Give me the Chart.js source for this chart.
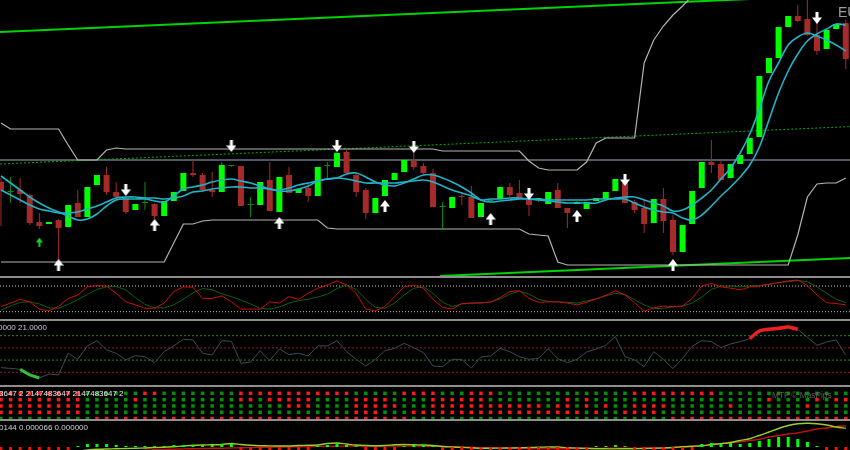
<!DOCTYPE html>
<html>
<head>
<meta charset="utf-8">
<script src="https://cdn.jsdelivr.net/npm/chart.js@4.4.0/dist/chart.umd.min.js"></script>
<style>
html, body { margin: 0; padding: 0; background: #000; overflow: hidden; }
#wrap { position: relative; width: 850px; height: 450px; overflow: hidden; background: #000; }
#wrap canvas { position: absolute; left: 0; }
.sep { position: absolute; left: 0; width: 850px; height: 2px; background: #8e8e8e; }
.lbl { position: absolute; font-family: "Liberation Sans", Arial, sans-serif; white-space: nowrap; }
</style>
</head>
<body>
<div id="wrap">
  <canvas id="main" width="850" height="276" style="top:0px"></canvas>
  <div class="sep" style="top:276px"></div>
  <canvas id="stoch" width="850" height="41" style="top:278px"></canvas>
  <div class="sep" style="top:319px"></div>
  <canvas id="rsi" width="850" height="64" style="top:321px"></canvas>
  <div class="sep" style="top:385px"></div>
  <canvas id="dots" width="850" height="32" style="top:387px"></canvas>
  <div class="sep" style="top:419px"></div>
  <canvas id="hist" width="850" height="29" style="top:421px"></canvas>

  <div class="lbl" style="left:838px;top:5px;font-size:14px;line-height:14px;color:#9c9c9c">EURUSD,H4</div>
  <div class="lbl" style="left:-2px;top:324px;font-size:8px;line-height:8px;color:#c8c8c8">0000 21.0000</div>
  <div class="lbl" style="left:-1px;top:390px;font-size:8px;line-height:8px;color:#e8e8e8">3647 2 2147483647 2147483647 2</div>
  <div class="lbl" style="left:772px;top:391px;font-size:8.3px;line-height:9px;color:#5c5c5c">MTF © MasPips</div>
  <div class="lbl" style="left:-1px;top:424px;font-size:8px;line-height:8px;color:#d0d0d0">0144 0.000066 0.000000</div>
</div>
<script>
// price bars (89 bars, oldest first)
var opens = [94,84,86,81,54,52,56,49,73,59, 91,101,84,78,66,73,72,60,75,85,
  103,101,86,84,110,110,71,71,96,64, 101,83,88,80,110,109,124,101,86,63,
  80,96,104,115,110,103,69,68,80,79, 59,75,77,89,83,76,76,72,86,68,
  72,67,75,77,85,93,74,68,53,77, 56,24,52,88,114,112,98,112,122,139,
  203,218,249,260,257,241,227,247,253];
var highs = [98,99,98,82,63,54,57,71,86,89, 101,109,94,80,72,94,73,75,84,103,
  116,103,104,114,111,110,79,94,114,99, 109,87,93,109,114,124,126,102,88,78,
  96,103,116,124,113,107,74,79,84,90, 73,76,89,93,96,76,78,84,93,68,
  75,74,78,84,97,93,76,76,77,88, 61,51,85,114,136,116,112,121,138,200,
  218,249,260,271,276,256,246,252,256];
var lows = [50,73,73,51,47,52,16,49,59,59, 91,81,77,62,66,66,57,60,75,85,
  99,84,79,84,109,70,59,71,65,64, 83,83,74,80,96,109,103,79,57,63,
  80,96,104,106,102,69,46,68,71,58, 59,74,77,79,77,60,74,72,68,48,
  72,67,75,77,85,73,63,43,53,43, 21,24,52,88,103,96,98,112,122,139,
  203,218,249,254,240,221,227,247,207];
var closes = [86,84,82,53,50,54,48,71,59,89, 101,84,79,64,72,73,60,75,84,103,
  101,86,84,111,110,70,71,94,65,99, 83,87,80,109,110,123,103,84,63,78,
  96,103,116,109,103,69,69,79,79,58, 73,75,89,81,77,71,78,84,68,63,
  74,74,78,84,97,73,66,52,77,55, 24,51,85,114,111,96,112,121,138,200,
  218,249,260,255,241,225,246,252,217];

var fastMA = [100,93,86,79,73,68,64,60,56,57, 62,70,76,77,77,77,75,74,80,87,
  89,91,94,96,97,95,93,90,87,85, 85,87,90,95,97,98,102,103,99,94,
  91,90,93,97,101,101,98,94,89,83, 76,74,75,76,77,77,76,75,74,73,
  73,73,73,76,78,79,79,76,73,70, 65,66,71,78,86,97,108,123,142,167,
  195,213,231,239,243,240,236,231,225];
var slowMA = [86,81,76,71,67,65,63,63,64,67, 70,74,78,79,79,78,78,77,78,80,
  84,85,87,88,89,89,88,88,87,86, 88,91,93,95,97,98,97,95,93,93,
  93,93,94,95,96,94,90,86,83,80, 76,77,77,78,78,77,77,76,76,76,
  76,76,77,77,77,77,73,69,66,64, 63,58,56,61,70,80,89,99,111,129,
  156,183,205,222,235,242,247,252,251];

var channelHigh = [153,147,147,147,147,147,147,131,116,116, 116,126,128,127,127,127,127,127,127,127,
  127,127,127,127,127,127,127,127,127,127, 127,127,127,127,127,127,127,127,127,127,
  127,127,127,127,127,127,125,125,125,125, 125,125,125,125,125,115,108,106,106,106,
  106,114,133,138,138,138,138,213,236,250, 261,270,280,null,null,null,null,null,null,null,
  null,null,null,null,null,null,null,null,null];
var channelLow = [14,14,14,14,14,14,14,14,14,14, 14,14,14,14,14,14,14,14,33,52,
  52,55,56,56,56,56,56,56,56,56, 56,56,56,56,48,47,47,47,47,47,
  47,47,47,47,47,47,47,47,47,47, 47,47,47,47,47,42,41,40,14,11,
  11,11,11,11,11,11,11,11,11,11, 11,11,11,11,11,11,11,11,11,11,
  11,11,11,41,79,92,93,93,98];

var priceLine = 116;
var trendX = [-0.1, 88.44];
var trendTop = [244, 281.4];
var trendMid = [112, 149.4];
var trendLowX = [45.75, 88.44];
var trendLow = [0, 18];

var downArrowBars = [13,24,35,43,55,65,85];
var downArrowValues = [86,130,130,129,82,96,258];
var upArrowBars = [6,16,29,40,51,60,70];
var upArrowValues = [11,51,53,70,57,60,11];
var greenArrowBars = [4];
var greenArrowValues = [34];

// stochastic
var stochK = [32,40,49,43,26,22,32,51,59,78, 81,80,63,43,36,28,28,40,67,78,
  77,51,51,57,43,26,26,26,43,40, 55,49,63,75,82,92,82,63,26,22,
  32,55,78,82,75,49,30,26,39,40, 41,42,53,67,69,51,42,43,43,40,
  36,42,50,58,69,59,41,21,29,33, 32,33,51,80,86,78,75,71,78,80,
  84,88,92,94,81,59,41,39,36];
var stochD = [24,33,42,43,38,29,28,37,48,60, 72,78,79,71,53,37,29,29,36,49,
  64,74,71,62,55,47,38,28,26,31, 40,46,49,54,61,74,82,72,49,30,
  28,40,59,75,78,63,42,32,38,40, 40,43,50,61,68,61,49,44,43,42,
  40,45,50,57,63,60,48,36,27,28, 31,33,40,54,72,80,80,78,80,81,
  84,88,90,93,90,78,63,49,41];
var stochLevels = [80, 20];

// rsi
var rsi = [43.8,43.2,42.4,37.8,35.3,38.6,37.8,55.6,50.6,61.6, 65.9,58.3,55.6,50.1,53.6,52.8,47.9,56.9,61.6,67.0,
  66.5,55.6,54.2,65.9,65.4,47.4,48.4,57.7,49.5,59.1, 54.5,55.6,53.4,61.6,61.6,65.9,56.9,50.6,45.2,50.6,
  57.7,59.6,63.7,60.2,56.1,45.2,44.6,50.6,50.6,43.5, 52.5,53.4,59.6,56.9,52.8,50.6,51.5,59.4,51.2,47.9,
  50.6,56.6,59.1,62.1,69.2,52.8,50.1,44.6,56.9,50.6, 43.0,51.5,61.3,65.9,65.1,60.2,63.2,65.1,67.6,73.8,
  75.2,76.0,77.1,75.2,68.7,62.1,64.8,66.5,53.9];
var rsiLowBars = [2,3,4];
var rsiHighBars = [78,79,80,81,82,83];
var rsiGreenLevels = [70, 50];
var rsiRedLevels = [60, 40];

// MTF signal dots, top row first (r = down, g = up)
var dotRows = [
  'r'.repeat(9) + 'g'.repeat(6) + 'r'.repeat(2) + 'g'.repeat(8) + 'r'.repeat(12) + 'g'.repeat(5) +
    'r'.repeat(4) + 'g'.repeat(3) + 'r'.repeat(3) + 'g'.repeat(14) + 'r'.repeat(9) + 'g'.repeat(14),
  'r'.repeat(9) + 'g'.repeat(5) + 'r' + 'g'.repeat(10) + 'rr' + 'g' + 'r'.repeat(5) + 'g'.repeat(4) +
    'r'.repeat(4) + 'g'.repeat(4) + 'r'.repeat(6) + 'g'.repeat(8) + 'rgr' + 'g'.repeat(18) + 'r' +
    'g'.repeat(4) + 'rgrr',
  'r'.repeat(9) + 'g'.repeat(21) + 'r'.repeat(3) + 'g'.repeat(4) + 'r'.repeat(5) + 'g'.repeat(3) +
    'r'.repeat(12) + 'g' + 'rr' + 'grgr' + 'gg' + 'r'.repeat(4) + 'g'.repeat(6) + 'r' + 'g'.repeat(7) +
    'r' + 'g'.repeat(4),
  'r'.repeat(9) + 'g'.repeat(28) + 'r'.repeat(3) + 'g'.repeat(3) + 'r'.repeat(18) + 'gr' + 'gg' +
    'r'.repeat(4) + 'g'.repeat(20),
  'g'.repeat(10) + 'r'.repeat(33) + 'g'.repeat(27) + 'r'.repeat(19)
];

// macd style histogram and lines
var histValues = [-4,-4,-4,-4,-4,-4,-4,-4,1,3, 3,3,2,1,1,1,1,1,2,2,
  2,2,2,3,3,-4,-4,-4,-4,-4, -4,-4,-4,1,2,4,2,1,-4,-4,
  -4,-4,1,2,2,1,-4,-4,-4,-4, -4,-4,-4,-4,-4,-4,-4,-4,-4,-4,
  -4,-4,1,1,2,1,-4,-4,-4,-4, -4,-4,-4,3,4,3,4,3,4,6,
  8,10,10,8,5,1,-4,-4,-4];
var macdLine = [-4,-4,-4,-4,-4,-4,-4,-4,-4,-3, -2.3,-2,-1.8,-1.5,-1.2,-1,-0.6,-0.3,0.3,1,
  1.7,2,2.2,2.5,3.5,2.5,1.7,1.3,1.1,1, 1,1.5,1.7,2,3.5,4,3,2,1.5,1.2,
  1.5,2.2,2.5,2.2,2,1.5,0.5,0,-0.4,-0.8, -1.2,-1.2,-1.1,-1,-0.8,-0.5,-0.2,0,0,-0.7,
  -1,-1.4,-1.7,-1.8,-1.9,-1.7,-1.7,-1.5,-1.3,-1, -0.5,0.2,0.7,1.2,2.5,3.4,4.5,6.5,8.3,11.5,
  15,18.5,21.5,23.2,23.7,23.3,22,20,18.8];
var signalLine = [-4,-4,-4,-4,-4,-4,-4,-4,-4,-4, -4,-4,-4,-4,-4,-3.3,-2.8,-2.4,-2.1,-1.9,
  -1.7,-1.5,-1.3,-1.2,-1,-0.8,-0.6,-0.4,-0.2,0, 0.1,0.3,0.4,0.6,0.7,0.8,1,1,1,1,
  1,1,1,1,0.9,0.7,0.5,0.2,0,-0.3, -0.6,-0.8,-1,-1.2,-1.3,-1.4,-1.5,-1.6,-1.7,-1.7,
  -1.6,-1.5,-1.4,-1.3,-1.3,-1.2,-1.2,-1.1,-1,-1, -0.5,0,0.6,1.2,2.4,3.4,4.1,5.3,6.5,7.8,
  10,11.5,13,14,16,18,19,20.5,21.3];

function pts(arr) {
  return arr.map(function (v, i) { return { x: i, y: v }; });
}
function pick(bars, values) {
  return bars.map(function (b, i) { return { x: b, y: values[i] }; });
}
function only(arr, bars) {
  return arr.map(function (v, i) { return { x: i, y: bars.indexOf(i) >= 0 ? v : null }; });
}
function hline(value, color, width, dash) {
  return { type: 'line', data: [{ x: trendX[0], y: value }, { x: trendX[1], y: value }],
    borderColor: color, borderWidth: width, borderDash: dash || [], pointRadius: 0, order: 9 };
}

function makeArrow(up, color, w, h) {
  var c = document.createElement('canvas');
  c.width = w; c.height = h;
  var g = c.getContext('2d');
  g.fillStyle = color;
  if (up) { g.translate(0, h); g.scale(1, -1); }
  var sw = Math.max(2, Math.round(w * 0.34));
  g.fillRect((w - sw) / 2, 0, sw, h * 0.6);
  g.beginPath();
  g.moveTo(0, h * 0.45);
  g.lineTo(w, h * 0.45);
  g.lineTo(w / 2, h);
  g.closePath();
  g.fill();
  return c;
}

function baseOptions(ymin, ymax) {
  return {
    responsive: false, animation: false, devicePixelRatio: 1, events: [],
    layout: { padding: 0, autoPadding: false },
    plugins: { legend: { display: false }, tooltip: { enabled: false } },
    elements: { point: { radius: 0 } },
    scales: {
      x: { type: 'linear', min: -0.1, max: 88.44, offset: false, display: false },
      y: { type: 'linear', min: ymin, max: ymax, display: false }
    }
  };
}

var bull = '#00ff00', bear = '#a52a2a', doji = '#138a13';
var bodyColors = opens.map(function (o, i) { return closes[i] > o ? bull : (closes[i] < o ? bear : doji); });
var wickColors = opens.map(function (o, i) { return closes[i] >= o ? doji : bear; });

new Chart(document.getElementById('main'), {
  type: 'bar',
  data: {
    datasets: [
      { type: 'line', data: pick(downArrowBars, downArrowValues), showLine: false,
        pointStyle: makeArrow(false, '#ffffff', 10, 12), pointRadius: 6, order: 0 },
      { type: 'line', data: pick(upArrowBars, upArrowValues), showLine: false,
        pointStyle: makeArrow(true, '#ffffff', 10, 12), pointRadius: 6, order: 0 },
      { type: 'line', data: pick(greenArrowBars, greenArrowValues), showLine: false,
        pointStyle: makeArrow(true, '#22cc22', 7, 9), pointRadius: 5, order: 0 },
      { type: 'line', data: pts(fastMA), borderColor: '#20b4c8', borderWidth: 1.6,
        pointRadius: 0, tension: 0.35, order: 1 },
      { type: 'line', data: pts(slowMA), borderColor: '#20b4c8', borderWidth: 1.6,
        pointRadius: 0, tension: 0.35, order: 1 },
      { data: opens.map(function (o, i) { return { x: i, y: [o, closes[i]] }; }),
        backgroundColor: bodyColors, barThickness: 6, grouped: false, minBarLength: 1,
        inflateAmount: 0, borderWidth: 0, order: 3 },
      { data: lows.map(function (l, i) { return { x: i, y: [l, highs[i]] }; }),
        backgroundColor: wickColors, barThickness: 1, grouped: false,
        inflateAmount: 0, borderWidth: 0, order: 4 },
      { type: 'line', data: pts(channelHigh), borderColor: '#b4b4b4', borderWidth: 1.2,
        pointRadius: 0, tension: 0, order: 5 },
      { type: 'line', data: pts(channelLow), borderColor: '#b4b4b4', borderWidth: 1.2,
        pointRadius: 0, tension: 0, order: 5 },
      { type: 'line', data: pick(trendX, trendTop), borderColor: '#00d400', borderWidth: 2,
        pointRadius: 0, order: 6 },
      { type: 'line', data: pick(trendX, trendMid), borderColor: '#00b000', borderWidth: 1,
        borderDash: [2, 2], pointRadius: 0, order: 6 },
      { type: 'line', data: pick(trendLowX, trendLow), borderColor: '#00d400', borderWidth: 2,
        pointRadius: 0, order: 6 },
      Object.assign(hline(priceLine, '#4d5864', 2), { order: 8 })
    ]
  },
  options: baseOptions(0, 276)
});

new Chart(document.getElementById('stoch'), {
  type: 'line',
  data: {
    datasets: [
      { data: pts(stochK), borderColor: '#d40a0a', borderWidth: 1, pointRadius: 0, order: 0 },
      { data: pts(stochD), borderColor: '#0e620e', borderWidth: 1, pointRadius: 0, order: 1 }
    ].concat(stochLevels.map(function (l) { return hline(l, '#c4c4c4', 1, [1, 2]); }))
  },
  options: baseOptions(2.9, 98.7)
});

new Chart(document.getElementById('rsi'), {
  type: 'line',
  data: {
    datasets: [
      { data: only(rsi, rsiLowBars), borderColor: '#36c036', borderWidth: 3, pointRadius: 0, order: 0 },
      { data: only(rsi, rsiHighBars), borderColor: '#ee2020', borderWidth: 3.5, pointRadius: 0,
        tension: 0.3, order: 0 },
      { data: pts(rsi), borderColor: '#3a4e54', borderWidth: 1, pointRadius: 0, order: 1 }
    ].concat(rsiGreenLevels.map(function (l) { return hline(l, '#1c8c1c', 1, [2, 2]); }))
     .concat(rsiRedLevels.map(function (l) { return hline(l, '#a01818', 1, [2, 2]); }))
  },
  options: baseOptions(29.6, 82.0)
});

new Chart(document.getElementById('dots'), {
  type: 'line',
  data: {
    datasets: dotRows.map(function (row, r) {
      var cells = row.split('');
      return {
        data: cells.map(function (c, i) { return { x: i, y: 5 - r }; }),
        showLine: false, pointStyle: 'rect', pointRadius: 2.5, pointBorderWidth: 0,
        pointBackgroundColor: cells.map(function (c) { return c === 'r' ? '#ff1a1a' : '#009200'; })
      };
    })
  },
  options: baseOptions(0.94, 6.0)
});

new Chart(document.getElementById('hist'), {
  type: 'bar',
  data: {
    datasets: [
      { type: 'line', data: pts(macdLine), borderColor: '#9acd32', borderWidth: 1.4,
        pointRadius: 0, tension: 0.3, order: 1 },
      { type: 'line', data: pts(signalLine), borderColor: '#c41010', borderWidth: 1.4,
        pointRadius: 0, tension: 0.3, order: 1 },
      { data: pts(histValues), barThickness: 3, grouped: false, inflateAmount: 0, borderWidth: 0,
        backgroundColor: histValues.map(function (v) { return v >= 0 ? '#00ff00' : '#ee1111'; }),
        order: 0 }
    ]
  },
  options: baseOptions(-3, 26)
});
</script>
</body>
</html>
